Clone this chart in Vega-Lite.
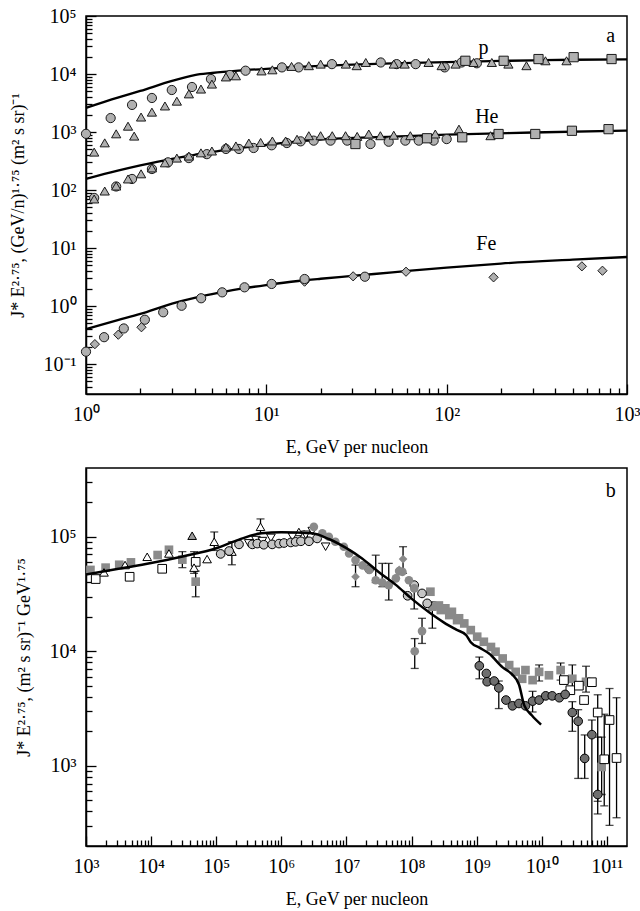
{
  "$schema": "https://vega.github.io/schema/vega-lite/v6.json",
  "padding": {"left": 8, "top": 5, "right": 2, "bottom": 2},
  "spacing": 10,
  "resolve": {"scale": {"shape": "independent", "fill": "independent", "stroke": "independent"}},
  "config": {
    "font": "Liberation Serif",
    "view": {"stroke": "#000", "strokeWidth": 1.5},
    "axis": {"domainColor": "#000", "domainWidth": 1.5, "tickColor": "#000", "tickWidth": 1.3, "labelFont": "Liberation Serif", "labelFontSize": 20, "labelColor": "#000", "titleFont": "Liberation Serif", "titleFontSize": 18, "titleFontWeight": "normal", "titleColor": "#000", "grid": false, "labelOverlap": false, "labelFlush": false, "labelPadding": 20}
  },
  "datasets": {
    "a_line": [
      {"elem": "p", "E": 1, "J": 2600}, {"elem": "p", "E": 1.5, "J": 3900}, {"elem": "p", "E": 2, "J": 5100}, {"elem": "p", "E": 3, "J": 7600}, {"elem": "p", "E": 4, "J": 9600}, {"elem": "p", "E": 5, "J": 10400}, {"elem": "p", "E": 7, "J": 11400}, {"elem": "p", "E": 10, "J": 12300}, {"elem": "p", "E": 20, "J": 13800}, {"elem": "p", "E": 30, "J": 14500}, {"elem": "p", "E": 50, "J": 15200}, {"elem": "p", "E": 100, "J": 16000}, {"elem": "p", "E": 200, "J": 16800}, {"elem": "p", "E": 300, "J": 17200}, {"elem": "p", "E": 500, "J": 17600}, {"elem": "p", "E": 1000, "J": 17900},
      {"elem": "He", "E": 1, "J": 155}, {"elem": "He", "E": 1.5, "J": 215}, {"elem": "He", "E": 2, "J": 265}, {"elem": "He", "E": 3, "J": 345}, {"elem": "He", "E": 4, "J": 405}, {"elem": "He", "E": 5, "J": 455}, {"elem": "He", "E": 7, "J": 525}, {"elem": "He", "E": 10, "J": 600}, {"elem": "He", "E": 15, "J": 690}, {"elem": "He", "E": 20, "J": 740}, {"elem": "He", "E": 50, "J": 830}, {"elem": "He", "E": 100, "J": 900}, {"elem": "He", "E": 300, "J": 980}, {"elem": "He", "E": 1000, "J": 1060},
      {"elem": "Fe", "E": 1, "J": 0.4}, {"elem": "Fe", "E": 1.5, "J": 0.57}, {"elem": "Fe", "E": 2, "J": 0.73}, {"elem": "Fe", "E": 3, "J": 1.1}, {"elem": "Fe", "E": 4, "J": 1.38}, {"elem": "Fe", "E": 5, "J": 1.6}, {"elem": "Fe", "E": 7, "J": 1.95}, {"elem": "Fe", "E": 10, "J": 2.3}, {"elem": "Fe", "E": 15, "J": 2.7}, {"elem": "Fe", "E": 20, "J": 2.95}, {"elem": "Fe", "E": 30, "J": 3.3}, {"elem": "Fe", "E": 50, "J": 3.8}, {"elem": "Fe", "E": 100, "J": 4.6}, {"elem": "Fe", "E": 200, "J": 5.4}, {"elem": "Fe", "E": 500, "J": 6.3}, {"elem": "Fe", "E": 1000, "J": 7.0}
    ],
    "a_pts": [
      {"exp": "A", "E": 1.0, "J": 930}, {"exp": "A", "E": 1.37, "J": 1740}, {"exp": "A", "E": 1.8, "J": 2930}, {"exp": "A", "E": 2.32, "J": 3860}, {"exp": "A", "E": 2.99, "J": 5300}, {"exp": "A", "E": 3.87, "J": 5970}, {"exp": "A", "E": 4.93, "J": 8200}, {"exp": "A", "E": 6.28, "J": 9600}, {"exp": "A", "E": 7.67, "J": 11400}, {"exp": "A", "E": 12.2, "J": 13000}, {"exp": "A", "E": 15.1, "J": 13000}, {"exp": "A", "E": 23.1, "J": 14800}, {"exp": "A", "E": 43.1, "J": 15800}, {"exp": "A", "E": 52.8, "J": 14800}, {"exp": "A", "E": 67.3, "J": 14800}, {"exp": "A", "E": 97.5, "J": 13000}, {"exp": "A", "E": 121, "J": 15800}, {"exp": "A", "E": 147, "J": 15300},
      {"exp": "B", "E": 1.11, "J": 450}, {"exp": "B", "E": 1.27, "J": 650}, {"exp": "B", "E": 1.47, "J": 930}, {"exp": "B", "E": 1.71, "J": 1260}, {"exp": "B", "E": 1.85, "J": 850}, {"exp": "B", "E": 2.02, "J": 1810}, {"exp": "B", "E": 2.32, "J": 2200}, {"exp": "B", "E": 2.74, "J": 2810}, {"exp": "B", "E": 3.19, "J": 3400}, {"exp": "B", "E": 3.72, "J": 4540}, {"exp": "B", "E": 4.34, "J": 5500}, {"exp": "B", "E": 4.99, "J": 6700}, {"exp": "B", "E": 5.97, "J": 8900}, {"exp": "B", "E": 6.78, "J": 9300}, {"exp": "B", "E": 9.4, "J": 11300}, {"exp": "B", "E": 10.8, "J": 11800}, {"exp": "B", "E": 13.8, "J": 13500}, {"exp": "B", "E": 17.2, "J": 13900}, {"exp": "B", "E": 20.0, "J": 14800}, {"exp": "B", "E": 27.6, "J": 14800}, {"exp": "B", "E": 31.7, "J": 13900}, {"exp": "B", "E": 35.6, "J": 15800}, {"exp": "B", "E": 50.9, "J": 14800}, {"exp": "B", "E": 58.5, "J": 14800}, {"exp": "B", "E": 79.4, "J": 15800}, {"exp": "B", "E": 93.8, "J": 13900}, {"exp": "B", "E": 112, "J": 14800}, {"exp": "B", "E": 141, "J": 15800}, {"exp": "B", "E": 178, "J": 15800}, {"exp": "B", "E": 220, "J": 14800}, {"exp": "B", "E": 277, "J": 13900}, {"exp": "B", "E": 353, "J": 16900}, {"exp": "B", "E": 462, "J": 16900},
      {"exp": "C", "E": 127, "J": 16900}, {"exp": "C", "E": 207, "J": 16900}, {"exp": "C", "E": 323, "J": 18100}, {"exp": "C", "E": 506, "J": 19500}, {"exp": "C", "E": 821, "J": 18100},
      {"exp": "A", "E": 1.11, "J": 73}, {"exp": "A", "E": 1.47, "J": 115}, {"exp": "A", "E": 1.8, "J": 155}, {"exp": "A", "E": 2.32, "J": 230}, {"exp": "A", "E": 2.85, "J": 300}, {"exp": "A", "E": 3.72, "J": 355}, {"exp": "A", "E": 4.68, "J": 415}, {"exp": "A", "E": 5.97, "J": 510}, {"exp": "A", "E": 7.05, "J": 510}, {"exp": "A", "E": 8.5, "J": 530}, {"exp": "A", "E": 10.7, "J": 590}, {"exp": "A", "E": 13.0, "J": 645}, {"exp": "A", "E": 15.5, "J": 690}, {"exp": "A", "E": 18.3, "J": 710}, {"exp": "A", "E": 22.7, "J": 710}, {"exp": "A", "E": 28.1, "J": 710}, {"exp": "A", "E": 37.8, "J": 620}, {"exp": "A", "E": 47.7, "J": 680}, {"exp": "A", "E": 59.0, "J": 710}, {"exp": "A", "E": 70.0, "J": 710}, {"exp": "A", "E": 84.7, "J": 710}, {"exp": "A", "E": 100, "J": 755},
      {"exp": "B", "E": 1.11, "J": 70}, {"exp": "B", "E": 1.27, "J": 96}, {"exp": "B", "E": 1.47, "J": 117}, {"exp": "B", "E": 1.71, "J": 155}, {"exp": "B", "E": 2.02, "J": 190}, {"exp": "B", "E": 2.32, "J": 240}, {"exp": "B", "E": 2.74, "J": 294}, {"exp": "B", "E": 3.19, "J": 355}, {"exp": "B", "E": 3.72, "J": 385}, {"exp": "B", "E": 4.34, "J": 437}, {"exp": "B", "E": 4.99, "J": 470}, {"exp": "B", "E": 5.97, "J": 550}, {"exp": "B", "E": 6.78, "J": 575}, {"exp": "B", "E": 8.0, "J": 645}, {"exp": "B", "E": 9.3, "J": 660}, {"exp": "B", "E": 10.8, "J": 700}, {"exp": "B", "E": 12.8, "J": 700}, {"exp": "B", "E": 14.8, "J": 750}, {"exp": "B", "E": 17.2, "J": 863}, {"exp": "B", "E": 20.0, "J": 863}, {"exp": "B", "E": 23.2, "J": 863}, {"exp": "B", "E": 27.5, "J": 863}, {"exp": "B", "E": 31.9, "J": 840}, {"exp": "B", "E": 37.0, "J": 924}, {"exp": "B", "E": 42.9, "J": 863}, {"exp": "B", "E": 50.9, "J": 880}, {"exp": "B", "E": 62.9, "J": 863}, {"exp": "B", "E": 86.5, "J": 924}, {"exp": "B", "E": 117, "J": 1120}, {"exp": "B", "E": 175, "J": 863},
      {"exp": "C", "E": 31.2, "J": 620}, {"exp": "C", "E": 77.8, "J": 780}, {"exp": "C", "E": 122, "J": 810}, {"exp": "C", "E": 194, "J": 924}, {"exp": "C", "E": 310, "J": 924}, {"exp": "C", "E": 495, "J": 1050}, {"exp": "C", "E": 790, "J": 1120},
      {"exp": "A", "E": 1.0, "J": 0.163}, {"exp": "A", "E": 1.26, "J": 0.29}, {"exp": "A", "E": 1.62, "J": 0.41}, {"exp": "A", "E": 2.12, "J": 0.58}, {"exp": "A", "E": 2.68, "J": 0.78}, {"exp": "A", "E": 3.39, "J": 1.01}, {"exp": "A", "E": 4.35, "J": 1.36}, {"exp": "A", "E": 5.69, "J": 1.72}, {"exp": "A", "E": 7.57, "J": 2.1}, {"exp": "A", "E": 10.7, "J": 2.4}, {"exp": "A", "E": 35.2, "J": 3.2},
      {"exp": "D", "E": 1.12, "J": 0.22}, {"exp": "D", "E": 1.51, "J": 0.32}, {"exp": "D", "E": 2.03, "J": 0.43}, {"exp": "D", "E": 16.3, "J": 2.63}, {"exp": "D", "E": 30.3, "J": 3.25}, {"exp": "D", "E": 59.5, "J": 3.9}, {"exp": "D", "E": 182, "J": 3.12}, {"exp": "D", "E": 562, "J": 4.83}, {"exp": "D", "E": 731, "J": 4.06},
      {"exp": "A", "E": 16.3, "J": 2.92}
    ],
    "a_lab": [
      {"t": "p", "E": 160, "J": 28000}, {"t": "He", "E": 167, "J": 1780}, {"t": "Fe", "E": 166, "J": 11.7}, {"t": "a", "E": 811, "J": 45000}
    ],
    "b_line": [
      {"E": 1e3, "J": 46800}, {"E": 3.16e3, "J": 52500}, {"E": 1e4, "J": 58900}, {"E": 3.16e4, "J": 67600}, {"E": 1e5, "J": 79400}, {"E": 2.24e5, "J": 94400}, {"E": 5.01e5, "J": 107200}, {"E": 1e6, "J": 109600}, {"E": 2.95e6, "J": 107200}, {"E": 5.37e6, "J": 95500}, {"E": 1e7, "J": 79400}, {"E": 1.74e7, "J": 64600}, {"E": 3.16e7, "J": 49000}, {"E": 5.75e7, "J": 38000}, {"E": 1e8, "J": 28800}, {"E": 1.86e8, "J": 21900}, {"E": 3.16e8, "J": 17800}, {"E": 4.79e8, "J": 15500}, {"E": 6.92e8, "J": 13800}, {"E": 8.13e8, "J": 12000}, {"E": 1.12e9, "J": 10700}, {"E": 1.55e9, "J": 9550}, {"E": 2.51e9, "J": 7240}, {"E": 3.47e9, "J": 6310}, {"E": 4.47e9, "J": 5130}, {"E": 5.37e9, "J": 3390}, {"E": 7.08e9, "J": 2750}, {"E": 9.77e9, "J": 2290}
    ],
    "b_pts": [
      {"s": "gsq", "E": 1.17e3, "J": 51300}, {"s": "gsq", "E": 2.0e3, "J": 53700}, {"s": "gsq", "E": 3.24e3, "J": 56900}, {"s": "gsq", "E": 4.9e3, "J": 59700}, {"s": "gsq", "E": 1.26e4, "J": 69200}, {"s": "gsq", "E": 1.88e4, "J": 76900}, {"s": "gsq", "E": 3.02e4, "J": 63100}, {"s": "gsq", "E": 4.84e4, "J": 40500},
      {"s": "gsq", "E": 1.95e8, "J": 33100}, {"s": "gsq", "E": 2.09e8, "J": 24500}, {"s": "gsq", "E": 2.63e8, "J": 25100}, {"s": "gsq", "E": 2.82e8, "J": 22900}, {"s": "gsq", "E": 3.31e8, "J": 23700}, {"s": "gsq", "E": 3.8e8, "J": 20700}, {"s": "gsq", "E": 4.17e8, "J": 22100}, {"s": "gsq", "E": 5.01e8, "J": 18700}, {"s": "gsq", "E": 5.37e8, "J": 19400}, {"s": "gsq", "E": 6.46e8, "J": 17500}, {"s": "gsq", "E": 8.13e8, "J": 15300}, {"s": "gsq", "E": 1.02e9, "J": 13400}, {"s": "gsq", "E": 1.29e9, "J": 12100}, {"s": "gsq", "E": 1.66e9, "J": 10900}, {"s": "gsq", "E": 1.95e9, "J": 9910}, {"s": "gsq", "E": 2.51e9, "J": 8650}, {"s": "gsq", "E": 3.16e9, "J": 7570}, {"s": "gsq", "E": 3.98e9, "J": 6610}, {"s": "gsq", "E": 5.01e9, "J": 5750}, {"s": "gsq", "E": 5.62e9, "J": 6850}, {"s": "gsq", "E": 7.24e9, "J": 5600}, {"s": "gsq", "E": 9.12e9, "J": 6610}, {"s": "gsq", "E": 1.29e10, "J": 6170}, {"s": "gsq", "E": 1.95e10, "J": 6850}, {"s": "gsq", "E": 2.95e10, "J": 5750}, {"s": "gsq", "E": 4.79e10, "J": 5410}, {"s": "gsq", "E": 8.32e10, "J": 977},
      {"s": "osq", "E": 1.41e3, "J": 42700}, {"s": "osq", "E": 4.68e3, "J": 44700}, {"s": "osq", "E": 1.48e4, "J": 52500}, {"s": "osq", "E": 4.84e4, "J": 60300},
      {"s": "osq", "E": 2.19e10, "J": 5600}, {"s": "osq", "E": 2.75e10, "J": 4570}, {"s": "osq", "E": 3.72e10, "J": 5010}, {"s": "osq", "E": 4.47e10, "J": 3750}, {"s": "osq", "E": 5.89e10, "J": 5370}, {"s": "osq", "E": 7.24e10, "J": 2920}, {"s": "osq", "E": 9.12e10, "J": 1140}, {"s": "osq", "E": 1.1e11, "J": 2510}, {"s": "osq", "E": 1.41e11, "J": 1170},
      {"s": "otri", "E": 1.89e3, "J": 48800}, {"s": "otri", "E": 3.98e3, "J": 56600}, {"s": "otri", "E": 8.71e3, "J": 66800}, {"s": "otri", "E": 1.88e4, "J": 71400}, {"s": "otri", "E": 4.57e4, "J": 53700}, {"s": "otri", "E": 7.24e4, "J": 63800}, {"s": "otri", "E": 9.33e4, "J": 90400}, {"s": "otri", "E": 1.74e5, "J": 74100}, {"s": "otri", "E": 4.79e5, "J": 122000}, {"s": "otri", "E": 1.86e6, "J": 110000}, {"s": "otri", "E": 2.24e6, "J": 105000},
      {"s": "gtri", "E": 4.27e4, "J": 102000},
      {"s": "itri", "E": 3.16e5, "J": 87500}, {"s": "itri", "E": 4.07e5, "J": 93500}, {"s": "itri", "E": 5.13e5, "J": 91600}, {"s": "itri", "E": 6.92e5, "J": 97700}, {"s": "itri", "E": 1.48e6, "J": 100000}, {"s": "itri", "E": 2.37e6, "J": 104000}, {"s": "itri", "E": 2.99e6, "J": 112000}, {"s": "itri", "E": 4.79e6, "J": 81800},
      {"s": "lci", "E": 1.17e5, "J": 70800}, {"s": "lci", "E": 1.58e5, "J": 75000}, {"s": "lci", "E": 2.24e5, "J": 85700}, {"s": "lci", "E": 3.59e5, "J": 85700}, {"s": "lci", "E": 4.27e5, "J": 87100}, {"s": "lci", "E": 5.37e5, "J": 85100}, {"s": "lci", "E": 7.24e5, "J": 85700}, {"s": "lci", "E": 9.23e5, "J": 87100}, {"s": "lci", "E": 1.1e6, "J": 88100}, {"s": "lci", "E": 1.4e6, "J": 89100}, {"s": "lci", "E": 1.66e6, "J": 90200}, {"s": "lci", "E": 2.0e6, "J": 91200}, {"s": "lci", "E": 2.66e6, "J": 91200}, {"s": "lci", "E": 3.55e6, "J": 96600}, {"s": "lci", "E": 2.24e7, "J": 52200}, {"s": "lci", "E": 8.71e7, "J": 30500}, {"s": "lci", "E": 1.1e8, "J": 37800}, {"s": "lci", "E": 1.45e8, "J": 32000}, {"s": "lci", "E": 1.74e8, "J": 26200},
      {"s": "gci", "E": 3.16e6, "J": 122000}, {"s": "gci", "E": 4.27e6, "J": 107000}, {"s": "gci", "E": 5.37e6, "J": 100000}, {"s": "gci", "E": 6.76e6, "J": 90400}, {"s": "gci", "E": 9.12e6, "J": 81800}, {"s": "gci", "E": 1.1e7, "J": 71400}, {"s": "gci", "E": 1.38e7, "J": 62500}, {"s": "gci", "E": 1.78e7, "J": 56200}, {"s": "gci", "E": 2.24e7, "J": 51200}, {"s": "gci", "E": 2.82e7, "J": 41700}, {"s": "gci", "E": 3.55e7, "J": 39800}, {"s": "gci", "E": 4.47e7, "J": 37800}, {"s": "gci", "E": 5.75e7, "J": 43300}, {"s": "gci", "E": 6.46e7, "J": 50100}, {"s": "gci", "E": 7.24e7, "J": 49400}, {"s": "gci", "E": 9.12e7, "J": 41700}, {"s": "gci", "E": 1.1e8, "J": 35400}, {"s": "gci", "E": 1.45e8, "J": 15000}, {"s": "gci", "E": 1.12e8, "J": 10000},
      {"s": "gdi", "E": 1.38e7, "J": 44700}, {"s": "gdi", "E": 6.46e7, "J": 51300}, {"s": "gdi", "E": 7.41e7, "J": 63800},
      {"s": "dci", "E": 1.1e9, "J": 7460}, {"s": "dci", "E": 1.41e9, "J": 6400}, {"s": "dci", "E": 1.45e9, "J": 5420}, {"s": "dci", "E": 1.86e9, "J": 5500}, {"s": "dci", "E": 2.19e9, "J": 4790}, {"s": "dci", "E": 2.82e9, "J": 3750}, {"s": "dci", "E": 3.55e9, "J": 3340}, {"s": "dci", "E": 4.47e9, "J": 3500}, {"s": "dci", "E": 5.62e9, "J": 3340}, {"s": "dci", "E": 7.24e9, "J": 3670}, {"s": "dci", "E": 9.12e9, "J": 3750}, {"s": "dci", "E": 1.15e10, "J": 4080}, {"s": "dci", "E": 1.45e10, "J": 4080}, {"s": "dci", "E": 1.86e10, "J": 3930}, {"s": "dci", "E": 2.29e10, "J": 4200}, {"s": "dci", "E": 2.95e10, "J": 2920}, {"s": "dci", "E": 3.63e10, "J": 2450}, {"s": "dci", "E": 4.57e10, "J": 1160}, {"s": "dci", "E": 5.89e10, "J": 1870}, {"s": "dci", "E": 7.24e10, "J": 562}
    ],
    "b_err": [
      {"E": 3.02e4, "lo": 53700, "hi": 74100}, {"E": 4.84e4, "lo": 29900, "hi": 50100}, {"E": 4.57e4, "lo": 47900, "hi": 74100}, {"E": 9.33e4, "lo": 75900, "hi": 110000}, {"E": 1.74e5, "lo": 56900, "hi": 90400}, {"E": 4.79e5, "lo": 107000, "hi": 143000},
      {"E": 1.38e7, "lo": 36600, "hi": 56600}, {"E": 2.82e7, "lo": 39800, "hi": 69000}, {"E": 3.55e7, "lo": 36600, "hi": 58500}, {"E": 4.47e7, "lo": 28000, "hi": 58500}, {"E": 7.41e7, "lo": 47900, "hi": 81800}, {"E": 1.1e8, "lo": 23400, "hi": 38000}, {"E": 1.45e8, "lo": 11700, "hi": 19400}, {"E": 1.12e8, "lo": 7080, "hi": 12900}, {"E": 2.09e8, "lo": 15900, "hi": 27000},
      {"E": 1.1e9, "lo": 5750, "hi": 8900}, {"E": 2.19e9, "lo": 3160, "hi": 5500}, {"E": 7.24e9, "lo": 2950, "hi": 4470},
      {"E": 9.12e9, "lo": 5500, "hi": 7600}, {"E": 1.95e10, "lo": 5600, "hi": 7900}, {"E": 2.95e10, "lo": 4800, "hi": 7600}, {"E": 4.79e10, "lo": 4400, "hi": 7400},
      {"E": 2.95e10, "lo": 2000, "hi": 3630}, {"E": 3.63e10, "lo": 776, "hi": 3090}, {"E": 4.57e10, "lo": 776, "hi": 1860}, {"E": 5.89e10, "lo": 100, "hi": 2510}, {"E": 7.24e10, "lo": 380, "hi": 1780},
      {"E": 7.24e10, "lo": 490, "hi": 4170}, {"E": 9.12e10, "lo": 447, "hi": 2820}, {"E": 1.1e11, "lo": 302, "hi": 4730}, {"E": 1.41e11, "lo": 352, "hi": 3930}, {"E": 8.32e10, "lo": 562, "hi": 1780}
    ],
    "b_lab": [{"t": "b", "E": 1.15e11, "J": 251000}]
  },
  "vconcat": [
    {
      "width": 541,
      "height": 378,
      "layer": [
        {
          "data": {"name": "a_line"},
          "mark": {"type": "line", "color": "#000", "strokeWidth": 2.3, "interpolate": "monotone"},
          "encoding": {
            "x": {"field": "E", "type": "quantitative", "scale": {"type": "log", "domain": [1, 1000], "nice": false},
              "axis": {"title": "E, GeV per nucleon", "titlePadding": 10,
                "values": [1, 2, 3, 4, 5, 6, 7, 8, 9, 10, 20, 30, 40, 50, 60, 70, 80, 90, 100, 200, 300, 400, 500, 600, 700, 800, 900, 1000],
                "labelExpr": "datum.value == 1 ? '10⁰' : datum.value == 10 ? '10¹' : datum.value == 100 ? '10²' : datum.value == 1000 ? '10³' : ''",
                "tickSize": {"condition": {"test": "indexof([1, 10, 100, 1000], datum.value) >= 0", "value": -10}, "value": -6}}},
            "y": {"field": "J", "type": "quantitative", "scale": {"type": "log", "domain": [0.0304, 100000], "nice": false},
              "axis": {"title": "J* E²·⁷⁵, (GeV/n)¹·⁷⁵ (m² s sr)⁻¹", "titlePadding": 16,
                "values": [0.04, 0.05, 0.06, 0.07, 0.08, 0.09, 0.1, 0.2, 0.3, 0.4, 0.5, 0.6, 0.7, 0.8, 0.9, 1, 2, 3, 4, 5, 6, 7, 8, 9, 10, 20, 30, 40, 50, 60, 70, 80, 90, 100, 200, 300, 400, 500, 600, 700, 800, 900, 1000, 2000, 3000, 4000, 5000, 6000, 7000, 8000, 9000, 10000, 20000, 30000, 40000, 50000, 60000, 70000, 80000, 90000, 100000],
                "labelExpr": "datum.value == 0.1 ? '10⁻¹' : datum.value == 1 ? '10⁰' : datum.value == 10 ? '10¹' : datum.value == 100 ? '10²' : datum.value == 1000 ? '10³' : datum.value == 10000 ? '10⁴' : datum.value == 100000 ? '10⁵' : ''",
                "tickSize": {"condition": {"test": "indexof([0.1, 1, 10, 100, 1000, 10000, 100000], datum.value) >= 0", "value": -10}, "value": -6}}},
            "detail": {"field": "elem"}
          }
        },
        {
          "data": {"name": "a_pts"},
          "mark": {"type": "point", "filled": true, "size": 85, "strokeWidth": 1, "opacity": 1},
          "encoding": {
            "x": {"field": "E", "type": "quantitative"},
            "y": {"field": "J", "type": "quantitative"},
            "shape": {"field": "exp", "type": "nominal", "scale": {"domain": ["A", "B", "C", "D"], "range": ["circle", "triangle-up", "square", "diamond"]}, "legend": null},
            "fill": {"value": "#b0b0b0"},
            "stroke": {"value": "#1a1a1a"}
          }
        },
        {
          "data": {"name": "a_lab"},
          "mark": {"type": "text", "fontSize": 20, "font": "Liberation Serif", "color": "#000"},
          "encoding": {
            "x": {"field": "E", "type": "quantitative"},
            "y": {"field": "J", "type": "quantitative"},
            "text": {"field": "t"}
          }
        }
      ]
    },
    {
      "width": 541,
      "height": 378,
      "layer": [
        {
          "data": {"name": "b_err"},
          "mark": {"type": "rule", "color": "#000", "strokeWidth": 1.3, "clip": true},
          "encoding": {
            "x": {"field": "E", "type": "quantitative", "scale": {"type": "log", "domain": [1000, 2.04e11], "nice": false},
              "axis": {"title": "E, GeV per nucleon", "titlePadding": 10,
                "values": [1000, 2000, 3000, 4000, 5000, 6000, 7000, 8000, 9000, 1e4, 2e4, 3e4, 4e4, 5e4, 6e4, 7e4, 8e4, 9e4, 1e5, 2e5, 3e5, 4e5, 5e5, 6e5, 7e5, 8e5, 9e5, 1e6, 2e6, 3e6, 4e6, 5e6, 6e6, 7e6, 8e6, 9e6, 1e7, 2e7, 3e7, 4e7, 5e7, 6e7, 7e7, 8e7, 9e7, 1e8, 2e8, 3e8, 4e8, 5e8, 6e8, 7e8, 8e8, 9e8, 1e9, 2e9, 3e9, 4e9, 5e9, 6e9, 7e9, 8e9, 9e9, 1e10, 2e10, 3e10, 4e10, 5e10, 6e10, 7e10, 8e10, 9e10, 1e11],
                "labelExpr": "datum.value == 1e3 ? '10³' : datum.value == 1e4 ? '10⁴' : datum.value == 1e5 ? '10⁵' : datum.value == 1e6 ? '10⁶' : datum.value == 1e7 ? '10⁷' : datum.value == 1e8 ? '10⁸' : datum.value == 1e9 ? '10⁹' : datum.value == 1e10 ? '10¹⁰' : datum.value == 1e11 ? '10¹¹' : ''",
                "tickSize": {"condition": {"test": "indexof([1e3, 1e4, 1e5, 1e6, 1e7, 1e8, 1e9, 1e10, 1e11], datum.value) >= 0", "value": -10}, "value": -6}}},
            "y": {"field": "lo", "type": "quantitative", "scale": {"type": "log", "domain": [199.5, 398000], "nice": false},
              "axis": {"title": "J* E²·⁷⁵, (m² s sr)⁻¹ GeV¹·⁷⁵", "titlePadding": 16,
                "values": [300, 400, 500, 600, 700, 800, 900, 1000, 2000, 3000, 4000, 5000, 6000, 7000, 8000, 9000, 10000, 20000, 30000, 40000, 50000, 60000, 70000, 80000, 90000, 100000, 200000, 300000],
                "labelExpr": "datum.value == 1000 ? '10³' : datum.value == 10000 ? '10⁴' : datum.value == 100000 ? '10⁵' : ''",
                "tickSize": {"condition": {"test": "indexof([1000, 10000, 100000], datum.value) >= 0", "value": -10}, "value": -6}}},
            "y2": {"field": "hi"}
          }
        },
        {
          "data": {"name": "b_err"},
          "mark": {"type": "tick", "orient": "horizontal", "color": "#000", "size": 8, "thickness": 1.3, "clip": true},
          "encoding": {
            "x": {"field": "E", "type": "quantitative"},
            "y": {"field": "lo", "type": "quantitative"}
          }
        },
        {
          "data": {"name": "b_err"},
          "mark": {"type": "tick", "orient": "horizontal", "color": "#000", "size": 8, "thickness": 1.3, "clip": true},
          "encoding": {
            "x": {"field": "E", "type": "quantitative"},
            "y": {"field": "hi", "type": "quantitative"}
          }
        },
        {
          "data": {"name": "b_pts"},
          "mark": {"type": "point", "filled": true, "size": 75, "strokeWidth": 1, "opacity": 1, "clip": true},
          "encoding": {
            "x": {"field": "E", "type": "quantitative"},
            "y": {"field": "J", "type": "quantitative"},
            "shape": {"field": "s", "type": "nominal", "scale": {"domain": ["gsq", "osq", "otri", "itri", "lci", "gci", "gdi", "dci", "gtri"], "range": ["square", "square", "triangle-up", "triangle-down", "circle", "circle", "diamond", "circle", "triangle-up"]}, "legend": null},
            "fill": {"field": "s", "type": "nominal", "scale": {"domain": ["gsq", "osq", "otri", "itri", "lci", "gci", "gdi", "dci", "gtri"], "range": ["#8a8a8a", "#ffffff", "#ffffff", "#ffffff", "#c4c4c4", "#8a8a8a", "#8a8a8a", "#6e6e6e", "#9a9a9a"]}, "legend": null},
            "stroke": {"field": "s", "type": "nominal", "scale": {"domain": ["gsq", "osq", "otri", "itri", "lci", "gci", "gdi", "dci", "gtri"], "range": ["transparent", "#000", "#000", "#000", "#000", "transparent", "transparent", "#000", "#000"]}, "legend": null}
          }
        },
        {
          "data": {"name": "b_line"},
          "mark": {"type": "line", "color": "#000", "strokeWidth": 2.5, "interpolate": "monotone"},
          "encoding": {
            "x": {"field": "E", "type": "quantitative"},
            "y": {"field": "J", "type": "quantitative"}
          }
        },
        {
          "data": {"name": "b_lab"},
          "mark": {"type": "text", "fontSize": 20, "font": "Liberation Serif", "color": "#000"},
          "encoding": {
            "x": {"field": "E", "type": "quantitative"},
            "y": {"field": "J", "type": "quantitative"},
            "text": {"field": "t"}
          }
        }
      ]
    }
  ]
}
